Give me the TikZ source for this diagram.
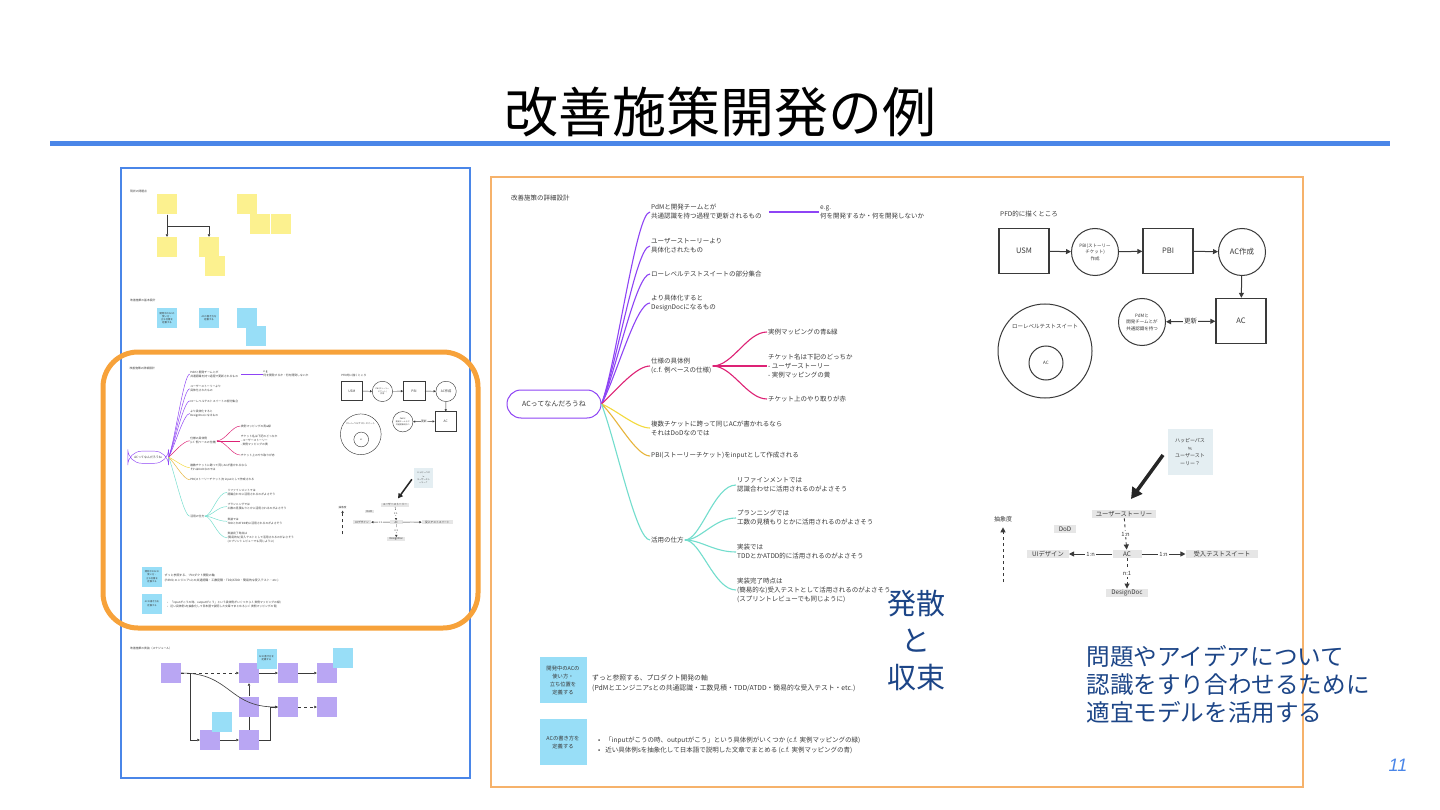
\documentclass[tikz,border=0pt]{standalone}
\usepackage{fontspec}
\setmainfont{Noto Sans CJK JP}
\newfontfamily\pagenofont{Liberation Sans}
\newfontfamily\symfont{DejaVu Sans}
\usetikzlibrary{arrows.meta, positioning, shapes.geometric}

\definecolor{titleblue}{HTML}{4A86E8}
\definecolor{frameorange}{HTML}{F6B26B}
\definecolor{hlorange}{HTML}{F7A23A}
\definecolor{inkgray}{HTML}{3A3A3A}
\definecolor{mmpurple}{HTML}{8E44F5}
\definecolor{mmmagenta}{HTML}{DD2275}
\definecolor{mmyellow}{HTML}{F3DA3C}
\definecolor{mmgold}{HTML}{E7B53C}
\definecolor{mmteal}{HTML}{72DDCD}
\definecolor{stickyblue}{HTML}{98DEF7}
\definecolor{stickyyellow}{HTML}{FCF18F}
\definecolor{stickyviolet}{HTML}{B9A6F3}
\definecolor{boxgray}{HTML}{E6E6E6}
\definecolor{hintgray}{HTML}{E4EEF2}
\definecolor{deepblue}{HTML}{1C4587}

\newcommand{\setfs}[2]{\fontsize{#1}{#2}\selectfont}
\def\bsc{1}

\tikzset{
  leaf/.style={anchor=west, align=left, inner sep=1pt, text=inkgray, font=\setfs{6.5}{9}},
  branch/.style={line width=\bsc*1.1pt},
  rootpill/.style={draw=mmpurple, line width=\bsc*1pt, rounded corners=14, minimum width=94,
    minimum height=28, text=inkgray, font=\setfs{7}{9}},
  sticky/.style={fill=stickyblue, minimum width=47, minimum height=46, inner sep=1pt,
    align=center, text=inkgray, font=\setfs{5.3}{8}},
  note/.style={anchor=west, align=left, inner sep=1pt, text=inkgray, font=\setfs{6.8}{10}},
  pbox/.style={draw=inkgray, line width=\bsc*1.4pt, minimum width=50, minimum height=45,
    text=inkgray, font=\setfs{7.5}{9}},
  pproc/.style={circle, draw=inkgray, line width=\bsc*1pt, minimum size=47, inner sep=0pt,
    align=center, text=inkgray, font=\setfs{4.5}{6.5}},
  flow/.style={draw=inkgray, line width=\bsc*1pt, -{Triangle[length=5pt,width=5pt,scale=\bsc]}},
  gbox/.style={fill=boxgray, minimum height=8.5, inner ysep=1pt, inner xsep=5pt,
    text=inkgray, font=\setfs{6.3}{8}},
  rellabel/.style={fill=white, inner sep=1pt, text=inkgray, font=\setfs{5.8}{7}},
  relarrow/.style={draw=inkgray, line width=\bsc*0.9pt, -{Triangle[length=5pt,width=5pt,scale=\bsc]}},
  hint/.style={fill=hintgray, minimum width=45, minimum height=46, inner sep=1pt, align=center,
    text=inkgray, font=\setfs{5}{7.5}},
  bigarrow/.style={draw=black!85, line width=\bsc*3.5pt, -{Triangle[length=11pt,width=12pt,scale=\bsc]}}
}

% the detail board, drawn once large and once as thumbnail
\newcommand{\detailboard}{%
  \node[leaf] (boardtitle) at (510,198) {改善施策の詳細設計};

  \node[rootpill] (ac) at (554,404) {ACってなんだろうね};
  \node[leaf] (m1) at (650,212) {PdMと開発チームとが\\共通認識を持つ過程で更新されるもの};
  \node[leaf] (m2) at (650,246) {ユーザーストーリーより\\具体化されたもの};
  \node[leaf] (m3) at (650,274) {ローレベルテストスイートの部分集合};
  \node[leaf] (m4) at (650,303) {より具体化すると\\DesignDocになるもの};
  \node[leaf] (m5) at (650,366) {仕様の具体例\\(c.f. 例ベースの仕様)};
  \node[leaf] (m6) at (650,428) {複数チケットに跨って同じACが書かれるなら\\それはDoDなのでは};
  \node[leaf] (m7) at (650,456) {PBI(ストーリーチケット)をinputとして作成される};
  \node[leaf] (m8) at (650,540) {活用の仕方};
  \node[leaf] (eg) at (819,212) {e.g.\\何を開発するか・何を開発しないか};

  \node[leaf] (s1) at (767,332) {実例マッピングの青\&緑};
  \node[leaf] (s2) at (767,366) {チケット名は下記のどっちか\\- ユーザーストーリー\\- 実例マッピングの黄};
  \node[leaf] (s3) at (767,399) {チケット上のやり取りが赤};

  \node[leaf] (t1) at (736,485) {リファインメントでは\\認識合わせに活用されるのがよさそう};
  \node[leaf] (t2) at (736,518) {プランニングでは\\工数の見積もりとかに活用されるのがよさそう};
  \node[leaf] (t3) at (736,552) {実装では\\TDDとかATDD的に活用されるのがよさそう};
  \node[leaf] (t4) at (736,590) {実装完了時点は\\(簡易的な)受入テストとして活用されるのがよさそう\\(スプリントレビューでも同じように)};

  \foreach \n/\c/\dy in {m1/mmpurple/-40, m2/mmpurple/-38, m3/mmpurple/-34, m4/mmpurple/-28,
      m5/mmmagenta/-14, m6/mmyellow/6, m7/mmgold/14, m8/mmteal/40}
    \draw[branch, \c] (ac.east) .. controls +(15,\dy) and +(-14,0) .. (\n.west);
  \draw[branch, mmpurple, shorten <=\bsc*6pt] (m1.east) -- (eg.west);
  \foreach \n in {s1, s2, s3}
    \draw[branch, mmmagenta] (m5.east) .. controls +(20,0) and +(-20,0) .. (\n.west);
  \foreach \n in {t1, t2, t3, t4}
    \draw[branch, mmteal] (m8.east) .. controls +(16,0) and +(-22,0) .. (\n.west);

  \node[sticky] (useac) at (563,680) {開発中のACの\\使い方・\\立ち位置を\\定義する};
  \node[note] (usenote) at (591,683) {ずっと参照する、プロダクト開発の軸\\(PdMとエンジニアsとの共通認識・工数見積・TDD/ATDD・簡易的な受入テスト・etc.)};
  \node[sticky] (howac) at (563,742) {ACの書き方を\\定義する};
  \node[note, font=\setfs{6.5}{10}] (hownote) at (597,745) {•\hspace{5pt}「inputがこうの時、outputがこう」という具体例がいくつか (c.f. 実例マッピングの緑)\\•\hspace{5pt}近い具体例sを抽象化して日本語で説明した文章でまとめる (c.f. 実例マッピングの青)};

  % PFD
  \node[leaf] (pfdlabel) at (999,214) {PFD的に描くところ};
  \node[pbox] (usm) at (1024,251) {USM};
  \node[pproc] (mkpbi) at (1095,252) {PBI(ストーリー\\チケット)\\作成};
  \node[pbox] (pbi) at (1168,251) {PBI};
  \node[pproc, font=\setfs{7.5}{9}] (mkac) at (1242,252) {AC作成};
  \node[pbox] (acstore) at (1241,321) {AC};
  \node[pproc] (share) at (1142,322) {PdMと\\開発チームとが\\共通認識を持つ};
  \draw[flow] (usm) -- (mkpbi);
  \draw[flow] (mkpbi) -- (pbi);
  \draw[flow] (pbi) -- (mkac);
  \draw[flow] (mkac) -- (acstore);
  \draw[flow, {Triangle[length=5pt,width=5pt,scale=\bsc]}-{Triangle[length=5pt,width=5pt,scale=\bsc]}]
    (share) -- node[rellabel, font=\setfs{6.5}{8}] {更新} (acstore);

  \node[circle, draw=inkgray, line width=\bsc*1pt, minimum size=94] (lts) at (1045,351) {};
  \node[text=inkgray, font=\setfs{5.5}{7}] (ltslabel) at (1045,326) {ローレベルテストスイート};
  \node[circle, draw=inkgray, line width=\bsc*1pt, minimum size=34, inner sep=0pt,
    text=inkgray, font=\setfs{4.5}{6}] (ltsac) at (1046,363) {AC};

  % abstraction
  \node[hint] (happy) at (1190,452) {ハッピーパス\\{\symfont ≒}\\ユーザースト\\ーリー？};
  \coordinate (happytail) at (1163,455);
  \coordinate (happyhead) at (1131,499);
  \draw[bigarrow] (happytail) -- (happyhead);
  \node[gbox, inner xsep=3.5pt] (story) at (1124,514) {ユーザーストーリー};
  \node[gbox] (dod) at (1065,529) {DoD};
  \node[gbox, minimum width=29] (acnode) at (1127,554) {AC};
  \node[gbox] (uidesign) at (1048,554) {UIデザイン};
  \node[gbox, inner xsep=8pt] (atsuite) at (1222,554) {受入テストスイート};
  \node[gbox] (designdoc) at (1127,593) {DesignDoc};
  \draw[relarrow, dashed] (story) -- node[rellabel] {1:n} (acnode);
  \draw[relarrow] (acnode) -- node[rellabel] {1:n} (uidesign);
  \draw[relarrow] (acnode) -- node[rellabel] {1:n} (atsuite);
  \draw[relarrow, dashed] (acnode) -- node[rellabel] {n:1} (designdoc);
  \node[text=inkgray, font=\setfs{6}{8}] (abst) at (1003,519) {抽象度};
  \coordinate (abstbottom) at (1003,582);
  \draw[relarrow, dashed, shorten >=\bsc*2pt] (abstbottom) -- (abst.south);
}

\begin{document}
\begin{tikzpicture}[x=1pt, y=-1pt]
  \tikzset{
    mini/.style={minimum width=20, minimum height=20, inner sep=0.5pt, align=center,
      text=inkgray, font=\setfs{2.4}{3}},
    thinarrow/.style={draw=inkgray, line width=0.6pt, -{Triangle[length=2.5pt,width=2.5pt]}},
    tinylabel/.style={anchor=west, inner sep=0pt, text=inkgray, font=\setfs{2.8}{3.5}}
  }
  \useasboundingbox[fill=white] (0,0) rectangle (1440,810);

  \node[font=\setfs{54}{60}] (title) at (720,112) {改善施策開発の例};
  \draw[titleblue, line width=5pt] (50,144) -- (1390,144);

  % left: whole board thumbnail
  \draw[titleblue, line width=1.5pt] (121,168) rectangle (470,778);
  \node[tinylabel] (lbltop) at (130,191) {現状の問題点};
  \node[mini, fill=stickyyellow] (y1) at (167,204.5) {};
  \node[mini, fill=stickyyellow] (y2) at (167,247) {};
  \node[mini, fill=stickyyellow] (y3) at (209,247) {};
  \node[mini, fill=stickyyellow] (y4) at (215,266) {};
  \node[mini, fill=stickyyellow] (y5) at (247,204.5) {};
  \node[mini, fill=stickyyellow] (y6) at (259.5,224.5) {};
  \node[mini, fill=stickyyellow] (y7) at (281,224.5) {};
  \draw[thinarrow] (y1.south) -- (y2.north);
  \draw[thinarrow] (y1.south) -- ++(0,12) -| (y3.north);

  \node[tinylabel] (lblbasic) at (130,300) {改善施策の基本設計};
  \node[mini, fill=stickyblue] (b1) at (167,318) {開発中のACの\\使い方・\\立ち位置を\\定義する};
  \node[mini, fill=stickyblue] (b2) at (209,318) {ACの書き方を\\定義する};
  \node[mini, fill=stickyblue] (b3) at (247,318) {};
  \node[mini, fill=stickyblue] (b4) at (256,336) {};

  \begin{scope}[shift={(-91.7,282.3)}, scale=0.433, transform shape, name prefix=th-]
    \def\bsc{0.433}
    \detailboard
  \end{scope}

  \node[tinylabel] (lblplan) at (130,648) {改善施策の実装（スケジュール）};
  \node[mini, fill=stickyviolet] (p1) at (171,673) {};
  \node[mini, fill=stickyviolet] (p2) at (249,673) {};
  \node[mini, fill=stickyviolet] (p3) at (288,673) {};
  \node[mini, fill=stickyviolet] (p4) at (327,673) {};
  \node[mini, fill=stickyviolet] (p5) at (249,706.5) {};
  \node[mini, fill=stickyviolet] (p6) at (288,707) {};
  \node[mini, fill=stickyviolet] (p7) at (327,707) {};
  \node[mini, fill=stickyviolet] (p8) at (210,740) {};
  \node[mini, fill=stickyviolet] (p9) at (249,740) {};
  \node[mini, fill=stickyblue] (c1) at (266.5,658.5) {ACの書き方を\\定義する};
  \node[mini, fill=stickyblue] (c2) at (343,658) {};
  \node[mini, fill=stickyblue] (c3) at (221.5,722) {};
  \coordinate (p1drop) at (190,673);
  \draw[thinarrow, dashed] (p1.east) -- (p2.west);
  \draw[thinarrow] (p2) -- (p3);
  \draw[thinarrow] (p3) -- (p4);
  \draw[thinarrow] (p1.east) .. controls +(50,0) and +(-50,0) .. (p6.west);
  \draw[thinarrow] (p1drop) |- (p8.west);
  \draw[thinarrow] (p8) -- (p9);
  \draw[inkgray, line width=0.6pt] (p9.north) -- (p5.south);
  \draw[thinarrow] (p5.north) -- (p2.south);
  \draw[thinarrow] (p9.east) -- ++(11,0) |- (p6.west);
  \draw[thinarrow, dashed] (p6) -- (p7);

  \draw[hlorange, line width=5pt, rounded corners=35pt] (103,352) rectangle (478,628);

  % right: zoomed detail
  \draw[frameorange, line width=1.5pt] (491,177) rectangle (1303,787);
  \detailboard

  \node[align=center, text=deepblue, font=\setfs{29}{37}] (hassan) at (916,640) {発散\\と\\収束};
  \node[anchor=west, align=left, text=deepblue, font=\setfs{23.6}{28}] (models) at (1083,684)
    {問題やアイデアについて\\認識をすり合わせるために\\適宜モデルを活用する};
  \node[text=titleblue, font=\pagenofont\itshape\setfs{18}{20}] (pageno) at (1398,765) {11};
\end{tikzpicture}
\end{document}
